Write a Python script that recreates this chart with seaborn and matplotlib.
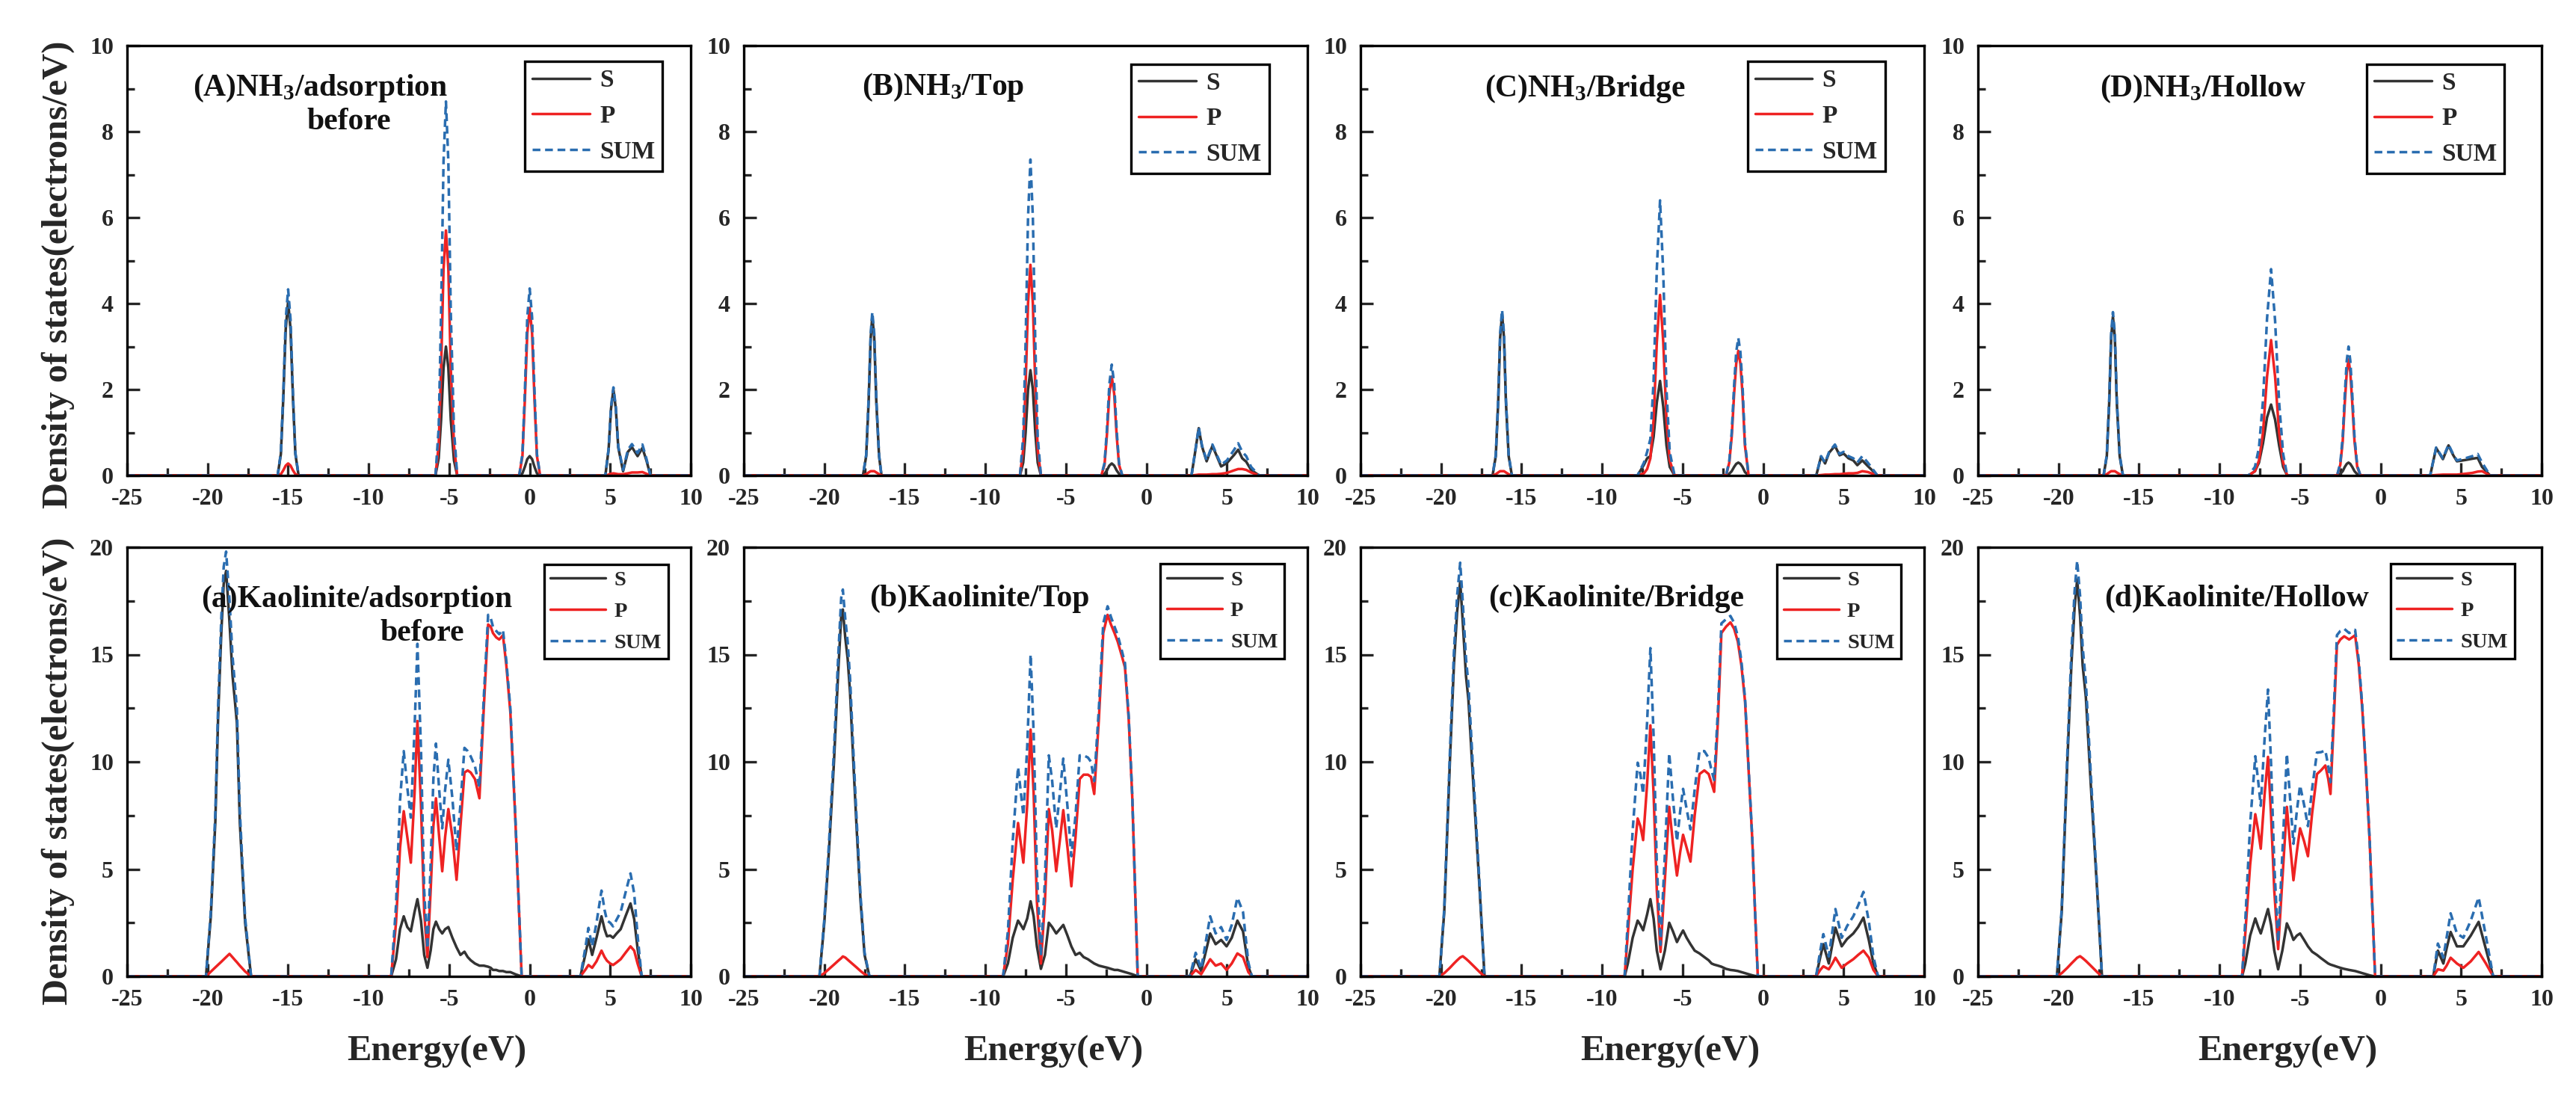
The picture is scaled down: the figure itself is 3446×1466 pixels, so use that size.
import numpy as np
import pandas as pd
import matplotlib
matplotlib.use("Agg")
import matplotlib.pyplot as plt
import seaborn as sns
from matplotlib.ticker import MultipleLocator

sns.set_style("ticks")
plt.rcParams['font.family'] = ['Liberation Serif', 'DejaVu Serif']
plt.rcParams['font.weight'] = 'bold'
plt.rcParams['axes.unicode_minus'] = False
plt.rcParams['mathtext.fontset'] = 'custom'
plt.rcParams['mathtext.rm'] = 'Liberation Serif:bold'
plt.rcParams['mathtext.it'] = 'Liberation Serif:bold'
plt.rcParams['mathtext.bf'] = 'Liberation Serif:bold'

# ---------------- data ----------------
# Top row: NH3
A_E = [-25,
       -15.65, -15.45, -15.3, -15.15, -15.0, -14.85, -14.7, -14.55, -14.35,
       -5.85, -5.65, -5.5, -5.35, -5.2, -5.05, -4.9, -4.7, -4.5,
       -0.65, -0.45, -0.3, -0.15, 0.0, 0.15, 0.3, 0.45, 0.65,
       4.7, 4.9, 5.05, 5.2, 5.35, 5.5, 5.8, 6.1, 6.35, 6.7, 7.0, 7.25, 7.5,
       10]
A_S = [0,
       0, 0.5, 1.8, 3.4, 4.05, 3.4, 1.8, 0.5, 0,
       0, 0.4, 1.3, 2.5, 3.0, 2.5, 1.3, 0.35, 0,
       0, 0.05, 0.2, 0.38, 0.45, 0.38, 0.2, 0.05, 0,
       0, 0.6, 1.55, 2.0, 1.55, 0.65, 0.1, 0.55, 0.66, 0.45, 0.64, 0.35, 0,
       0]
A_P = [0,
       0, 0.03, 0.12, 0.23, 0.28, 0.23, 0.12, 0.03, 0,
       0, 0.7, 2.5, 4.8, 5.7, 4.8, 2.5, 0.7, 0,
       0, 0.45, 1.75, 3.3, 3.9, 3.3, 1.75, 0.45, 0,
       0, 0.02, 0.04, 0.05, 0.04, 0.03, 0.03, 0.05, 0.07, 0.07, 0.08, 0.04, 0,
       0]

B_E = [-25,
       -17.6, -17.4, -17.25, -17.12, -17.02, -16.9, -16.77, -16.6, -16.45,
       -7.85, -7.65, -7.5, -7.35, -7.2, -7.05, -6.9, -6.75, -6.55,
       -2.8, -2.6, -2.45, -2.3, -2.15, -2.0, -1.85, -1.7, -1.5,
       2.8, 3.05, 3.25, 3.45, 3.74, 4.1, 4.35, 4.64, 5.0, 5.45, 5.7, 5.95, 6.2, 6.5, 7.0,
       10]
B_S = [0,
       0, 0.45, 1.7, 3.2, 3.7, 3.2, 1.7, 0.45, 0,
       0, 0.3, 1.0, 2.0, 2.45, 2.0, 1.0, 0.3, 0,
       0, 0.04, 0.12, 0.23, 0.28, 0.23, 0.12, 0.04, 0,
       0, 0.6, 1.1, 0.68, 0.33, 0.69, 0.47, 0.21, 0.29, 0.48, 0.6, 0.4, 0.32, 0.13, 0,
       0]
B_P = [0,
       0, 0.03, 0.07, 0.1, 0.1, 0.1, 0.07, 0.03, 0,
       0, 0.6, 2.1, 4.0, 4.9, 4.0, 2.1, 0.6, 0,
       0, 0.25, 0.95, 1.9, 2.3, 1.9, 0.95, 0.25, 0,
       0, 0.01, 0.02, 0.02, 0.02, 0.03, 0.03, 0.04, 0.06, 0.12, 0.15, 0.15, 0.13, 0.07, 0,
       0]

C_E = [-25,
       -16.8, -16.6, -16.45, -16.33, -16.21, -16.09, -15.97, -15.8, -15.6,
       -7.8, -7.4, -7.2, -7.0, -6.8, -6.6, -6.4, -6.2, -6.0, -5.8, -5.5,
       -2.3, -2.1, -1.95, -1.8, -1.67, -1.54, -1.41, -1.28, -1.13, -0.9,
       3.3, 3.6, 3.85, 4.1, 4.46, 4.75, 5.0, 5.3, 5.6, 5.85, 6.16, 6.5, 6.8, 7.1,
       10]
C_S = [0,
       0, 0.45, 1.7, 3.2, 3.75, 3.2, 1.7, 0.45, 0,
       0, 0.25, 0.4, 0.45, 0.9, 1.7, 2.2, 1.6, 0.7, 0.2, 0,
       0, 0.04, 0.1, 0.2, 0.27, 0.3, 0.27, 0.2, 0.08, 0,
       0, 0.44, 0.28, 0.53, 0.69, 0.47, 0.51, 0.4, 0.35, 0.24, 0.35, 0.22, 0.11, 0,
       0]
C_P = [0,
       0, 0.03, 0.07, 0.1, 0.1, 0.1, 0.07, 0.03, 0,
       0, 0.05, 0.15, 0.4, 1.3, 3.1, 4.2, 3.1, 1.3, 0.35, 0,
       0, 0.3, 0.9, 1.9, 2.6, 2.9, 2.6, 1.9, 0.7, 0,
       0, 0.01, 0.02, 0.02, 0.03, 0.03, 0.04, 0.05, 0.05, 0.06, 0.1, 0.08, 0.04, 0,
       0]

D_E = [-25,
       -17.2, -17.0, -16.85, -16.73, -16.62, -16.5, -16.38, -16.2, -16.0,
       -8.2, -7.8, -7.55, -7.3, -7.05, -6.8, -6.55, -6.3, -6.05, -5.8,
       -2.7, -2.5, -2.35, -2.22, -2.1, -1.99, -1.88, -1.76, -1.62, -1.45, -1.25,
       3.08, 3.45, 3.87, 4.22, 4.5, 4.74, 5.26, 5.7, 6.03, 6.3, 6.8,
       10]
D_S = [0,
       0, 0.45, 1.7, 3.2, 3.7, 3.2, 1.7, 0.45, 0,
       0, 0.1, 0.3, 0.75, 1.35, 1.65, 1.3, 0.7, 0.2, 0,
       0, 0.04, 0.1, 0.2, 0.27, 0.3, 0.27, 0.2, 0.1, 0.03, 0,
       0, 0.64, 0.38, 0.7, 0.48, 0.33, 0.36, 0.39, 0.41, 0.2, 0,
       0]
D_P = [0,
       0, 0.03, 0.07, 0.1, 0.1, 0.1, 0.07, 0.03, 0,
       0, 0.1, 0.35, 1.0, 2.3, 3.15, 2.3, 1.0, 0.3, 0,
       0, 0.25, 0.8, 1.7, 2.4, 2.7, 2.4, 1.7, 0.8, 0.2, 0,
       0, 0.01, 0.02, 0.02, 0.02, 0.02, 0.04, 0.06, 0.09, 0.1, 0,
       0]

# Bottom row: Kaolinite
a_E = [-25,
       -20.1, -19.8, -19.52, -19.35, -19.15, -19.0, -18.85, -18.64, -18.45, -18.3, -18.18, -18.0, -17.67, -17.3,
       -8.6, -8.3, -8.05, -7.82, -7.6, -7.38, -7.15, -6.97, -6.75, -6.55,
       -6.35, -6.15, -5.98, -5.82, -5.62, -5.43, -5.25, -5.05, -4.8, -4.54,
       -4.3, -4.05, -3.85, -3.66, -3.4, -3.12, -2.85, -2.58, -2.42, -2.28,
       -2.08, -1.89, -1.66, -1.45, -1.2, -0.89, -0.7, -0.5,
       3.15, 3.45, 3.65, 3.88, 4.15, 4.46, 4.65, 4.8, 5.0, 5.18, 5.4, 5.65, 5.95, 6.26, 6.49, 6.7, 6.95,
       10]
a_S = [0,
       0, 2.8, 7.2, 12.0, 16.0, 18.3, 18.9, 16.5, 14.0, 12.8, 11.8, 7.2, 2.5, 0,
       0, 0.8, 2.2, 2.8, 2.3, 2.1, 3.0, 3.6, 2.6, 1.0,
       0.4, 1.2, 2.2, 2.55, 2.2, 2.0, 2.2, 2.3, 1.8, 1.35,
       1.0, 1.15, 0.9, 0.75, 0.6, 0.5, 0.5, 0.45, 0.4, 0.3,
       0.3, 0.25, 0.25, 0.2, 0.2, 0.1, 0.05, 0,
       0, 1.0, 1.73, 1.0, 1.8, 2.8, 2.2, 1.87, 1.9, 1.8, 2.0, 2.2, 2.8, 3.4, 2.67, 1.3, 0,
       0]
a_P = [0,
       0, 0.22, 0.42, 0.54, 0.68, 0.79, 0.9, 1.05, 0.89, 0.76, 0.66, 0.5, 0.23, 0,
       0, 2.5, 6.0, 7.7, 6.5, 5.3, 8.5, 11.9, 8.0, 3.0,
       0.9, 4.0, 7.0, 8.3, 6.5, 4.9, 6.5, 7.8, 6.5, 4.5,
       7.0, 9.5, 9.6, 9.5, 9.2, 8.3, 12.5, 16.4, 16.3, 16.0,
       15.8, 15.7, 15.9, 14.5, 12.3, 7.3, 3.8, 0,
       0, 0.3, 0.53, 0.4, 0.7, 1.2, 0.9, 0.73, 0.6, 0.53, 0.65, 0.8, 1.1, 1.4, 1.2, 0.6, 0,
       0]

b_E = [-25,
       -20.3, -20.0, -19.7, -19.4, -19.15, -18.95, -18.85, -18.7, -18.55, -18.4, -18.2, -18.0, -17.75, -17.5, -17.2,
       -8.9, -8.6, -8.3, -7.97, -7.8, -7.64, -7.4, -7.19, -7.0, -6.8,
       -6.55, -6.3, -6.06, -5.85, -5.6, -5.38, -5.16, -4.9, -4.66, -4.4,
       -4.14, -3.9, -3.63, -3.44, -3.24, -2.95, -2.68, -2.41, -2.2, -1.98,
       -1.78, -1.55, -1.33, -1.1, -0.88, -0.7, -0.54,
       2.7, 3.06, 3.4, 3.96, 4.3, 4.64, 4.98, 5.3, 5.65, 6.0, 6.33, 6.55,
       10]
b_S = [0,
       0, 2.5, 6.0, 10.0, 14.0, 16.8, 17.1, 15.8, 14.8, 13.2, 10.0, 7.0, 3.5, 1.0, 0,
       0, 0.6, 1.8, 2.6, 2.4, 2.2, 2.7, 3.5, 2.8, 1.4,
       0.35, 1.0, 2.5, 2.3, 2.0, 2.2, 2.4, 1.9, 1.4, 1.0,
       1.1, 0.9, 0.8, 0.7, 0.6, 0.5, 0.45, 0.4, 0.35, 0.3,
       0.3, 0.25, 0.2, 0.15, 0.1, 0.05, 0,
       0, 0.8, 0.25, 2.0, 1.5, 1.7, 1.4, 1.8, 2.6, 2.1, 0.45, 0,
       0]
b_P = [0,
       0, 0.15, 0.35, 0.55, 0.72, 0.85, 0.93, 0.88, 0.78, 0.68, 0.55, 0.42, 0.25, 0.1, 0,
       0, 1.5, 4.5, 7.15, 6.2, 5.3, 8.0, 11.5, 8.5, 3.5,
       0.6, 3.5, 7.8, 6.8, 4.9, 6.3, 7.75, 6.0, 4.2, 6.5,
       9.2, 9.4, 9.4, 9.3, 8.5, 12.0, 16.0, 16.85, 16.4, 16.0,
       15.6, 15.0, 14.4, 12.0, 8.4, 4.0, 0,
       0, 0.3, 0.1, 0.8, 0.5, 0.6, 0.3, 0.6, 1.07, 0.9, 0.2, 0,
       0]

c_E = [-25,
       -20.1, -19.8, -19.45, -19.2, -19.0, -18.81, -18.65, -18.45, -18.3, -18.0, -17.6, -17.3,
       -8.6, -8.4, -8.1, -7.79, -7.62, -7.45, -7.2, -7.0, -6.8, -6.6,
       -6.37, -6.1, -5.83, -5.6, -5.35, -5.15, -4.97, -4.75, -4.51, -4.25,
       -3.95, -3.65, -3.38, -3.2, -3.04, -2.8, -2.59, -2.3, -2.03, -1.8,
       -1.57, -1.35, -1.12, -0.9, -0.67, -0.5, -0.33,
       3.29, 3.55, 3.74, 4.08, 4.3, 4.49, 4.88, 5.21, 5.6, 5.9, 6.23, 6.57, 6.85, 7.14,
       10]
c_S = [0,
       0, 3.0, 10.0, 14.5, 17.0, 18.4, 16.5, 14.0, 12.9, 9.0, 4.0, 0,
       0, 0.6, 1.8, 2.6, 2.4, 2.15, 2.9, 3.6, 2.7, 1.2,
       0.33, 1.2, 2.5, 2.1, 1.6, 1.9, 2.14, 1.8, 1.5, 1.2,
       1.07, 0.9, 0.75, 0.6, 0.55, 0.5, 0.45, 0.35, 0.3, 0.28,
       0.25, 0.2, 0.15, 0.1, 0.05, 0.02, 0,
       0, 0.9, 1.5, 0.6, 1.5, 2.27, 1.4, 1.74, 2.0, 2.3, 2.74, 1.67, 0.6, 0,
       0]
c_P = [0,
       0, 0.15, 0.4, 0.6, 0.75, 0.88, 0.94, 0.82, 0.72, 0.5, 0.2, 0,
       0, 2.0, 5.0, 7.36, 7.0, 6.35, 9.0, 11.7, 8.5, 4.0,
       1.14, 4.5, 7.9, 6.2, 4.7, 5.8, 6.6, 6.0, 5.35, 7.5,
       9.43, 9.6, 9.43, 9.0, 8.6, 12.0, 16.0, 16.3, 16.5, 16.2,
       15.6, 14.5, 12.8, 9.6, 6.35, 3.0, 0,
       0, 0.3, 0.47, 0.33, 0.6, 0.87, 0.4, 0.6, 0.8, 1.0, 1.2, 0.87, 0.3, 0,
       0]

d_E = [-25,
       -20.1, -19.8, -19.45, -19.2, -19.0, -18.84, -18.66, -18.5, -18.3, -18.0, -17.6, -17.3,
       -8.6, -8.4, -8.1, -7.78, -7.6, -7.44, -7.2, -6.99, -6.8, -6.6,
       -6.36, -6.1, -5.82, -5.6, -5.41, -5.2, -5.0, -4.75, -4.51, -4.25,
       -3.95, -3.7, -3.43, -3.25, -3.11, -2.9, -2.71, -2.5, -2.26, -1.95,
       -1.58, -1.35, -1.13, -0.9, -0.68, -0.5, -0.34,
       3.27, 3.56, 3.9, 4.1, 4.35, 4.74, 5.14, 5.6, 6.09, 6.54, 6.99,
       10]
d_S = [0,
       0, 3.0, 10.0, 14.5, 17.2, 18.5, 16.8, 14.5, 13.0, 9.0, 4.0, 0,
       0, 0.6, 1.9, 2.7, 2.3, 2.0, 2.6, 3.14, 2.4, 1.2,
       0.33, 1.2, 2.47, 2.1, 1.7, 1.9, 2.0, 1.7, 1.4, 1.15,
       1.0, 0.85, 0.7, 0.6, 0.55, 0.5, 0.45, 0.4, 0.35, 0.3,
       0.25, 0.2, 0.15, 0.1, 0.05, 0.02, 0,
       0, 1.2, 0.6, 1.3, 2.07, 1.4, 1.4, 1.9, 2.54, 1.27, 0,
       0]
d_P = [0,
       0, 0.15, 0.4, 0.6, 0.75, 0.87, 0.94, 0.85, 0.72, 0.5, 0.2, 0,
       0, 2.0, 5.2, 7.56, 6.8, 5.95, 8.5, 10.23, 7.5, 4.0,
       1.27, 4.5, 7.9, 6.0, 4.48, 5.8, 6.9, 6.3, 5.6, 7.6,
       9.43, 9.6, 9.83, 9.2, 8.5, 12.0, 15.45, 15.7, 15.85, 15.7,
       15.9, 14.5, 12.4, 9.5, 6.35, 3.0, 0,
       0, 0.33, 0.27, 0.5, 0.87, 0.6, 0.4, 0.7, 1.14, 0.6, 0,
       0]

top_titles = ["(A)NH$_3$/adsorption", "(B)NH$_3$/Top", "(C)NH$_3$/Bridge", "(D)NH$_3$/Hollow"]
bot_titles = ["(a)Kaolinite/adsorption", "(b)Kaolinite/Top", "(c)Kaolinite/Bridge", "(d)Kaolinite/Hollow"]
series_names = ["S", "P", "SUM"]
x_ticks = [-25, -20, -15, -10, -5, 0, 5, 10]

# ---------------- styling ----------------
COL = {"S": "#333333", "P": "#ee2222", "SUM": "#2a6db0"}
FIG_W, FIG_H = 3446, 1466
lefts_px = [170, 995, 1820, 2646]
W_PX = 754

fig = plt.figure(figsize=(FIG_W / 100, FIG_H / 100), dpi=100)

top_data = [(A_E, A_S, A_P), (B_E, B_S, B_P), (C_E, C_S, C_P), (D_E, D_S, D_P)]
bot_data = [(a_E, a_S, a_P), (b_E, b_S, b_P), (c_E, c_S, c_P), (d_E, d_S, d_P)]

top_title_pos = [(0.343, 0.901), (0.354, 0.903), (0.398, 0.900), (0.399, 0.900)]
bot_title_pos = [(0.408, 0.878), (0.418, 0.881), (0.454, 0.881), (0.459, 0.881)]
top_leg_anchor = [(0.950, 0.963), (0.932, 0.957), (0.931, 0.963), (0.934, 0.957)]
bot_leg_anchor = [(0.960, 0.960), (0.959, 0.961), (0.959, 0.960), (0.952, 0.961)]

rows = [
    dict(data=top_data, top=61, bot=636, ymax=10, ymaj=2, ymin=1, titles=top_titles,
         tpos=top_title_pos, leg=top_leg_anchor, legfs=24, ls=0.5, hl=2.3, ylab_y=0.468),
    dict(data=bot_data, top=732, bot=1306, ymax=20, ymaj=5, ymin=2.5, titles=bot_titles,
         tpos=bot_title_pos, leg=bot_leg_anchor, legfs=20.5, ls=0.55, hl=2.6, ylab_y=0.479),
]

for r, row in enumerate(rows):
    for i in range(4):
        E, S, P = row["data"][i]
        df = pd.DataFrame({"Energy": E, "S": S, "P": P})
        df["SUM"] = df["S"] + df["P"]
        ax = fig.add_axes([lefts_px[i] / FIG_W, 1 - row["bot"] / FIG_H,
                           W_PX / FIG_W, (row["bot"] - row["top"]) / FIG_H])
        sns.lineplot(data=df, x="Energy", y="S", ax=ax, color=COL["S"], lw=2.5,
                     label="S", estimator=None, sort=False)
        sns.lineplot(data=df, x="Energy", y="P", ax=ax, color=COL["P"], lw=2.5,
                     label="P", estimator=None, sort=False)
        sns.lineplot(data=df, x="Energy", y="SUM", ax=ax, color=COL["SUM"], lw=2.5,
                     linestyle=(0, (3.0, 1.8)), label="SUM", estimator=None, sort=False)

        ax.set_xlim(-25, 10)
        ax.set_ylim(0, row["ymax"])
        ax.set_xticks(x_ticks)
        ax.xaxis.set_minor_locator(MultipleLocator(2.5))
        ax.yaxis.set_major_locator(MultipleLocator(row["ymaj"]))
        ax.yaxis.set_minor_locator(MultipleLocator(row["ymin"]))
        ax.tick_params(which="both", direction="in", top=False, right=False, width=2.4)
        ax.tick_params(which="major", length=12, labelsize=23)
        ax.tick_params(which="minor", length=7)
        ax.tick_params(axis="x", pad=12)
        ax.tick_params(axis="y", pad=13)
        for lab in ax.get_xticklabels() + ax.get_yticklabels():
            lab.set_fontweight("bold")
        for sp in ax.spines.values():
            sp.set_linewidth(2.4)
            sp.set_color("black")

        if i == 0:
            ax.set_ylabel("Density of states(electrons/eV)", fontsize=35, fontweight="bold")
            ax.yaxis.set_label_coords(-0.093, row["ylab_y"])
        else:
            ax.set_ylabel("")
        if r == 1:
            ax.set_xlabel("Energy(eV)", fontsize=35, fontweight="bold")
            ax.xaxis.set_label_coords(0.55, -0.138)
        else:
            ax.set_xlabel("")

        tx, ty = row["tpos"][i]
        ax.text(tx, ty, row["titles"][i], transform=ax.transAxes, ha="center", va="center",
                fontsize=30, fontweight="bold", color="#111111")
        if i == 0:
            bx, by = (0.394, 0.823) if r == 0 else (0.523, 0.800)
            ax.text(bx, by, "before", transform=ax.transAxes, ha="center", va="center",
                    fontsize=30, fontweight="bold", color="#111111")

        h, l = ax.get_legend_handles_labels()
        leg = ax.legend(h, l, loc="upper right", bbox_to_anchor=row["leg"][i],
                        bbox_transform=ax.transAxes, borderaxespad=0, fontsize=row["legfs"],
                        frameon=True, fancybox=False, edgecolor="black", framealpha=1,
                        borderpad=0.3, labelspacing=row["ls"], handlelength=row["hl"],
                        handletextpad=0.4)
        leg.get_frame().set_linewidth(2.4)
        for t in leg.get_texts():
            t.set_fontweight("bold")

fig.savefig("out.png", dpi=100)
